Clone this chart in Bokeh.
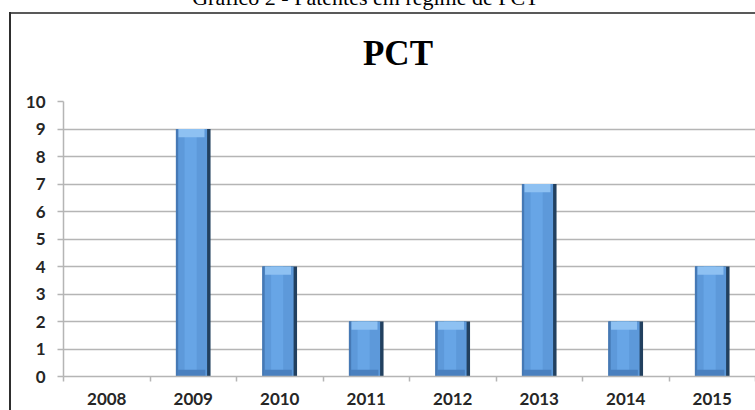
from bokeh.plotting import figure
from bokeh.models import (ColumnDataSource, FixedTicker, Label, Range1d)
from bokeh.transform import dodge
from bokeh.embed import file_html
from bokeh.resources import INLINE

# ---- data ----
years = ["2008", "2009", "2010", "2011", "2012", "2013", "2014", "2015"]
counts = [0, 9, 4, 2, 2, 7, 2, 4]
y_ticks = [0, 1, 2, 3, 4, 5, 6, 7, 8, 9, 10]
chart_title = "PCT"
caption = "Gráfico 2 - Patentes em regime de PCT"

xpos = [i + 0.5 for i in range(len(years))]
bevel_top = [max(c - 0.30, 0) for c in counts]
bevel_bot = [min(0.25, c) for c in counts]
src = ColumnDataSource(dict(x=xpos, top=counts, bt=bevel_top, bb=bevel_bot))

W, H = 755, 410
p = figure(width=W, height=H, output_backend="svg", toolbar_location=None,
           x_range=Range1d(0, len(years)), y_range=Range1d(0, 10),
           min_border_left=63, min_border_right=0, min_border_top=101,
           min_border_bottom=34)
p.outline_line_color = None
p.background_fill_color = "white"
p.border_fill_color = None
# document box (left and top edges) drawn behind the transparent border area
p.styles = {
    "background-color": "white",
    "background-image": "linear-gradient(#2e2e2e, #2e2e2e), linear-gradient(#595959, #595959)",
    "background-position": "9px 12px, 9px 12px",
    "background-size": "2px 100%, 100% 2px",
    "background-repeat": "no-repeat, no-repeat",
}

# grid
p.xgrid.grid_line_color = None
p.ygrid.grid_line_color = "#b5b5b5"
p.ygrid.grid_line_width = 1.5
p.ygrid.ticker = FixedTicker(ticks=y_ticks)

# y axis
p.yaxis.ticker = FixedTicker(ticks=y_ticks)
p.yaxis.axis_line_color = "#b5b5b5"
p.yaxis.axis_line_width = 1.5
p.yaxis.major_tick_line_color = "#b5b5b5"
p.yaxis.major_tick_line_width = 1.5
p.yaxis.major_tick_out = 6
p.yaxis.major_tick_in = 0
p.yaxis.minor_tick_line_color = None
p.yaxis.major_label_standoff = 12
p.yaxis.major_label_text_font = "Lato"
p.yaxis.major_label_text_font_style = "bold"
p.yaxis.major_label_text_font_size = "17px"
p.yaxis.major_label_text_color = "#262626"

# x axis
p.xaxis.ticker = FixedTicker(ticks=xpos, minor_ticks=list(range(len(years) + 1)))
p.xaxis.major_label_overrides = {x: y for x, y in zip(xpos, years)}
p.xaxis.axis_line_color = "#b5b5b5"
p.xaxis.axis_line_width = 1.5
p.xaxis.major_tick_line_color = None
p.xaxis.minor_tick_line_color = "#b5b5b5"
p.xaxis.minor_tick_line_width = 1.5
p.xaxis.minor_tick_out = 5
p.xaxis.minor_tick_in = 0
p.xaxis.major_label_standoff = 10
p.xaxis.major_label_text_font = "Lato"
p.xaxis.major_label_text_font_style = "bold"
p.xaxis.major_label_text_font_size = "17px"
p.xaxis.major_label_text_color = "#262626"

# bars with bevel-like shading
p.vbar(x="x", top="top", bottom=0, width=0.40, source=src,
       fill_color="#22405f", line_color=None)
p.vbar(x=dodge("x", -0.02, range=p.x_range), top="top", bottom=0, width=0.36,
       source=src, fill_color="#5d99da", line_color=None)
p.vbar(x=dodge("x", -0.187, range=p.x_range), top="top", bottom=0, width=0.026,
       source=src, fill_color="#4679b5", line_color=None)
p.vbar(x=dodge("x", -0.03, range=p.x_range), top="top", bottom=0, width=0.14,
       source=src, fill_color="#67a5e6", line_color=None)
p.vbar(x=dodge("x", -0.02, range=p.x_range), top="top", bottom="bt", width=0.30,
       source=src, fill_color="#8ec1f2", line_color=None)
p.vbar(x=dodge("x", -0.02, range=p.x_range), top="bb", bottom=0, width=0.32,
       source=src, fill_color="#4a80bf", line_color=None)

# chart title and document caption (placed in the top panel so they are not clipped)
p.add_layout(Label(x=3.867, y=11.74, text=chart_title, text_align="center",
                   text_baseline="alphabetic", text_font="Liberation Serif",
                   text_font_style="bold", text_font_size="35px",
                   text_color="#000000"), "above")
p.add_layout(Label(x=3.49, y=13.78, text=caption, text_align="center",
                   text_baseline="alphabetic", text_font="Liberation Serif",
                   text_font_size="22px", text_color="#000000"), "above")

open("out.html", "w").write(file_html(p, INLINE))
